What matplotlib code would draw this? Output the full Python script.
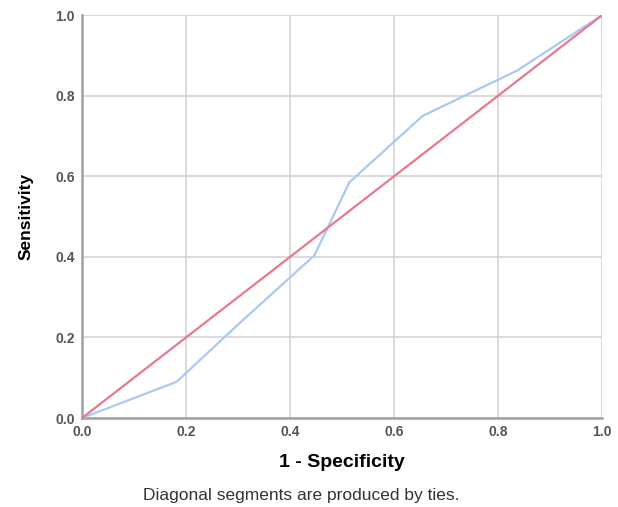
import numpy as np
import matplotlib.pyplot as plt

plt.rcParams['font.family'] = ['Liberation Sans', 'DejaVu Sans']

# ROC curve points
fpr = [0.0, 0.182, 0.30, 0.447, 0.514, 0.655, 0.742, 0.836, 1.0]
tpr = [0.0, 0.090, 0.232, 0.404, 0.585, 0.750, 0.804, 0.862, 1.0]
ref = [0.0, 1.0]
ticks = [0.0, 0.2, 0.4, 0.6, 0.8, 1.0]

fig = plt.figure(figsize=(6.18, 5.07), dpi=100)
ax = fig.add_axes([0.1327, 0.1755, 0.8415, 0.7945])

ax.plot(fpr, tpr, color='#a9c9f2', linewidth=1.6, zorder=3)
ax.plot(ref, ref, color='#e8798c', linewidth=1.6, zorder=4)

ax.set_xlim(0, 1)
ax.set_ylim(0, 1)
ax.set_xticks(ticks)
ax.set_yticks(ticks)
ax.set_xticklabels([f'{t:.1f}' for t in ticks])
ax.set_yticklabels([f'{t:.1f}' for t in ticks])
ax.grid(True, color='#d4d4d4', linewidth=1.2)
ax.set_axisbelow(True)

for s in ['top', 'right']:
    ax.spines[s].set_visible(False)
for s in ['left', 'bottom']:
    ax.spines[s].set_color('#a0a0a0')
    ax.spines[s].set_linewidth(1.8)

ax.tick_params(length=0, pad=5, labelsize=10, labelcolor='#555555')
for lab in ax.get_xticklabels() + ax.get_yticklabels():
    lab.set_fontweight('bold')

ax.set_xlabel('1 - Specificity', fontsize=14, fontweight='bold', labelpad=11)
ax.set_ylabel('Sensitivity', fontsize=12.5, fontweight='bold', labelpad=16)

fig.text(0.487, 0.023, 'Diagonal segments are produced by ties.', ha='center',
         va='center', fontsize=12.5, color='#333333')

fig.savefig('out.png', dpi=100)
